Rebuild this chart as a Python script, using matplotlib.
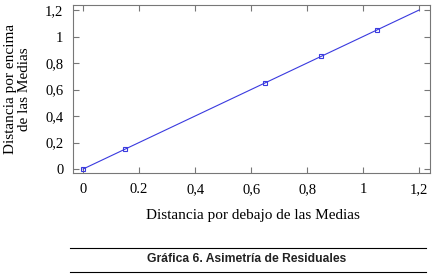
import matplotlib.pyplot as plt
from matplotlib.lines import Line2D

# data
x_pts = [0, 0.15, 0.65, 0.85, 1.05]
y_pts = [0, 0.15, 0.65, 0.85, 1.05]
line_x = [0, 1.2]
line_y = [0, 1.2]
x_ticks = [0, 0.2, 0.4, 0.6, 0.8, 1.0, 1.2]
x_labels = ['0', '0.2', '0,4', '0,6', '0,8', '1', '1,2']
y_ticks = [0, 0.2, 0.4, 0.6, 0.8, 1.0, 1.2]
y_labels = ['0', '0,2', '0,4', '0,6', '0,8', '1', '1,2']

W, H = 433, 275
fig = plt.figure(figsize=(W / 100, H / 100), dpi=100)
ax = fig.add_axes([73 / W, 1 - 173 / H, (430 - 73) / W, (173 - 5) / H])

ax.plot(line_x, line_y, color='#3a3adf', lw=0.8)
ax.plot(x_pts, y_pts, ls='none', marker='s', ms=3.0, mfc='none',
        mec='#3a3adf', mew=0.8)

ax.set_xlim(-0.036, 1.239)
ax.set_ylim(-0.03, 1.238)
ax.set_xticks(x_ticks)
ax.set_xticklabels(x_labels)
ax.set_yticks(y_ticks)
ax.set_yticklabels(y_labels)

serif = 'Liberation Serif'
for lab in ax.get_xticklabels() + ax.get_yticklabels():
    lab.set_family(serif)
    lab.set_fontsize(10.5)
ax.tick_params(direction='in', top=True, right=True, length=4,
               color='#777777', width=0.8, pad=7)
for s in ax.spines.values():
    s.set_color('#777777')
    s.set_linewidth(0.8)

fig.text(253 / W, 1 - 215 / H, 'Distancia por debajo de las Medias',
         family=serif, fontsize=11, ha='center', va='center')
fig.text(18 / W, 1 - 89 / H, 'Distancia por encima\nde las Medias',
         family=serif, fontsize=11, ha='center', va='center',
         rotation=90, linespacing=1.1)

fig.add_artist(Line2D([70 / W, 426 / W], [1 - 248 / H, 1 - 248 / H],
                      color='black', lw=0.8))
fig.add_artist(Line2D([70 / W, 426 / W], [1 - 272 / H, 1 - 272 / H],
                      color='black', lw=0.8))
fig.text(247 / W, 1 - 259 / H, 'Gráfica 6. Asimetría de Residuales',
         family='Liberation Sans', fontsize=8.7, fontweight='bold',
         ha='center', va='center', color='#222222')

fig.savefig('out.png', dpi=100)
